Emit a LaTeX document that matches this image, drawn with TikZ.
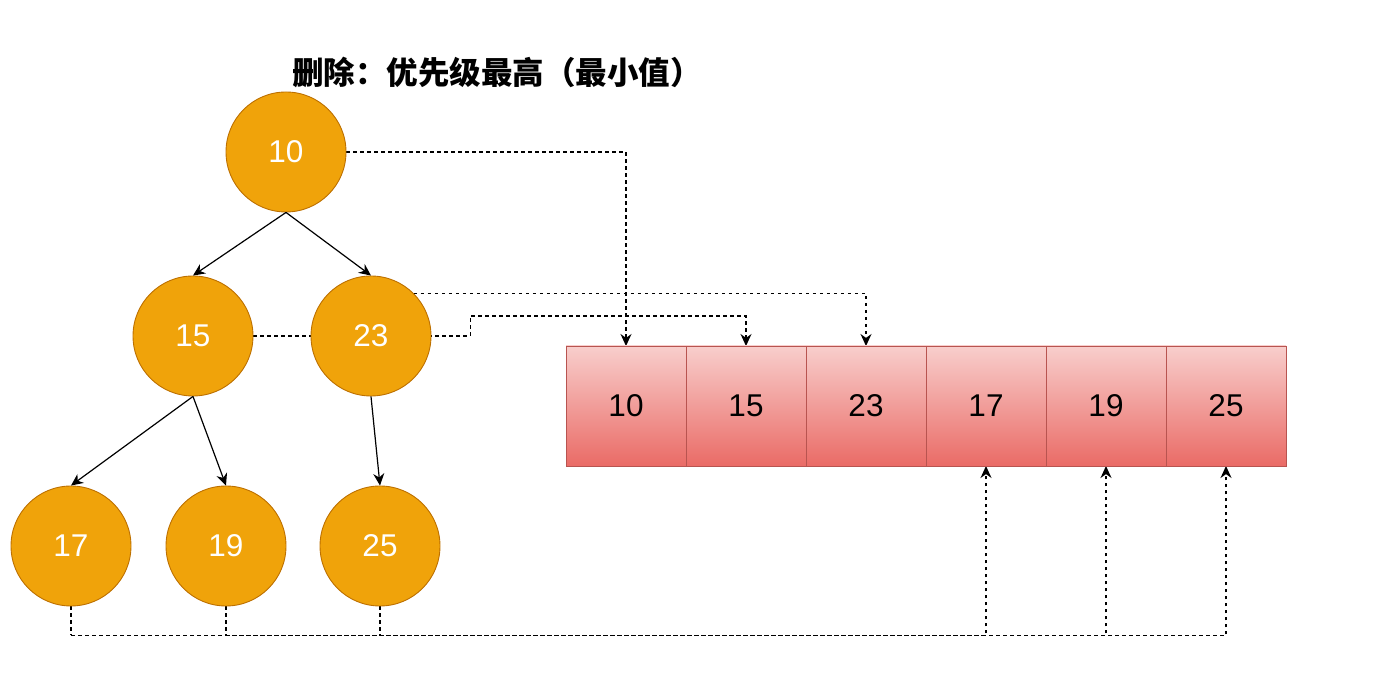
\documentclass[tikz,border=0pt]{standalone}
\usepackage{fontspec}
\setmainfont{Liberation Sans}
\newfontfamily\cjk{Noto Sans CJK SC}
\usepackage{tikz}
\usetikzlibrary{arrows.meta,positioning,calc,backgrounds}
\definecolor{cNode}{HTML}{F0A30A}
\definecolor{cNodeLine}{HTML}{BD7000}
\definecolor{cCellTop}{HTML}{F8CECC}
\definecolor{cCellBot}{HTML}{EA6B66}
\definecolor{cCellLine}{HTML}{B85450}
\tikzset{
  tnode/.style={circle, draw=cNodeLine, fill=cNode, line width=0.9pt, minimum size=120pt,
                inner sep=0pt, text=white, font=\fontsize{31.5}{36}\selectfont},
  cell/.style ={rectangle, draw=cCellLine, top color=cCellTop, bottom color=cCellBot,
                line width=0.9pt, minimum width=120pt, minimum height=120pt, inner sep=0pt,
                outer sep=0pt, font=\fontsize{31.5}{36}\selectfont},
  arrow/.style={-{Stealth[length=12pt,width=11pt]}, line width=1.2pt, draw=black},
  darrow/.style={-{Stealth[length=12pt,width=11pt]}, line width=1.2pt, draw=black,
                 dash pattern=on 3.5pt off 3.5pt},
  dline/.style={line width=1.2pt, draw=black, dash pattern=on 3.5pt off 3.5pt},
}
\begin{document}
\begin{tikzpicture}[x=1pt, y=1pt]
    \useasboundingbox (0,0) rectangle (1384,693);
    \node[font=\cjk\bfseries\fontsize{31.5}{36}\selectfont] (title) at (497,621) {删除：优先级最高（最小值）};
    % tree
    \node[tnode] (t10) at (286,541) {10};
    \node[tnode] (t15) at (193,357) {15};
    \node[tnode] (t23) at (371,357) {23};
    \node[tnode] (t17) at (71,147) {17};
    \node[tnode] (t19) at (226,147) {19};
    \node[tnode] (t25) at (380,147) {25};
    % array
    \node[cell] (h10) at (626,287) {10};
    \node[cell, right=0pt of h10] (h15) {15};
    \node[cell, right=0pt of h15] (h23) {23};
    \node[cell, right=0pt of h23] (h17) {17};
    \node[cell, right=0pt of h17] (h19) {19};
    \node[cell, right=0pt of h19] (h25) {25};
    \draw[arrow](t10.south)--(t15.north); \draw[arrow](t10.south)--(t23.north);
    \draw[arrow](t15.south)--(t17.north); \draw[arrow](t15.south)--(t19.north);
    \draw[arrow](t23.south)--(t25.north);
    \begin{scope}[on background layer]
      \draw[darrow](t10.east) -| (h10.north);
      \draw[darrow](t23.north east) -| (h23.north);
      \draw[darrow](t15.east) -- ([xshift=39pt]t23.east) |- ([yshift=30pt]h15.north) -- (h15.north);
      \draw[darrow]([yshift=-29pt]t17.south) -| (h17.south);
      \draw[darrow]([yshift=-29pt]t19.south) -| (h19.south);
      \draw[darrow]([yshift=-29pt]t25.south) -| (h25.south);
      \draw[dline](t17.south) -- ([yshift=-29pt]t17.south);
      \draw[dline](t19.south) -- ([yshift=-29pt]t19.south);
      \draw[dline](t25.south) -- ([yshift=-29pt]t25.south);
    \end{scope}
  \end{tikzpicture}
\end{document}
